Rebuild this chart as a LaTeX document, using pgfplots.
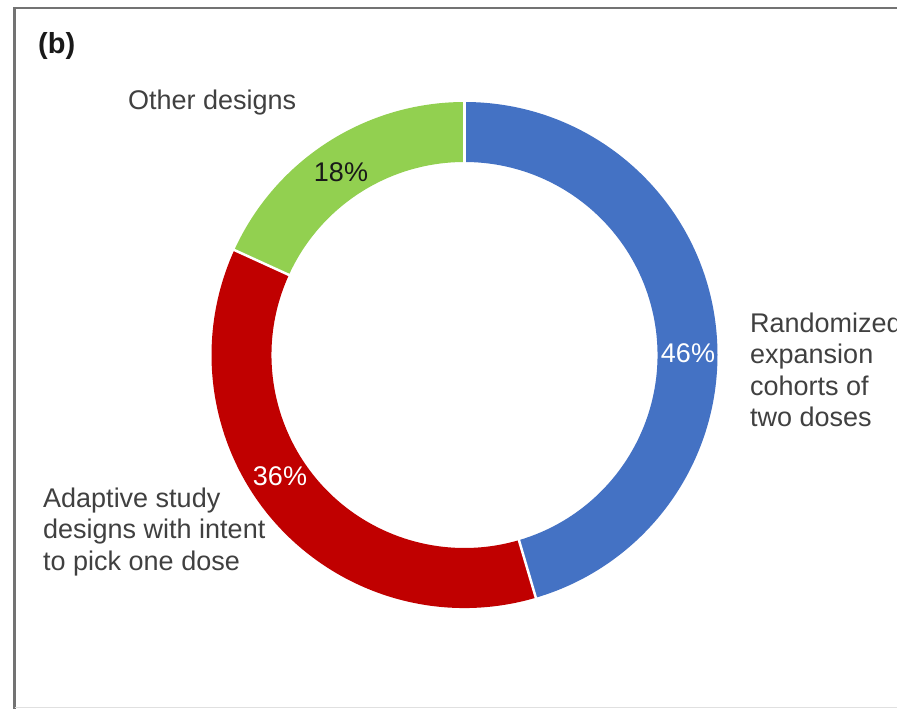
\documentclass[border=0pt]{standalone}
\usepackage{pgfplots}
\pgfplotsset{compat=1.18}
\usepackage{pgfplotstable}
\usepackage{fontspec}
\setmainfont{Liberation Sans}
\definecolor{cblue}{HTML}{4472C4}
\definecolor{cred}{HTML}{C00000}
\definecolor{cgreen}{HTML}{92D050}
\definecolor{ctext}{HTML}{404040}
\newcommand\fs{\fontsize{27bp}{32bp}\selectfont}

% shares read from the ring (labels show them rounded: 46%, 36%, 18%)
\pgfplotstableread{
share
45.45
36.36
18.18
}\shares

\begin{document}
\begin{tikzpicture}
\useasboundingbox (0,0) rectangle (897bp,709bp);
\pgfplotstablegetelem{0}{share}\of\shares \let\sA\pgfplotsretval
\pgfplotstablegetelem{1}{share}\of\shares \let\sB\pgfplotsretval
\pgfplotstablegetelem{2}{share}\of\shares \let\sC\pgfplotsretval
\pgfmathsetmacro\aA{90}
\pgfmathsetmacro\aB{\aA-3.6*\sA}
\pgfmathsetmacro\aC{\aB-3.6*\sB}
\pgfmathsetmacro\aD{\aC-3.6*\sC}
\def\ro{253}\def\ri{193}
\newcommand\sector[3]{%
  \fill[#1] (axis cs:464.5,354) ++(#2:\ro bp) arc[start angle=#2, end angle=#3, radius=\ro bp]
    -- ++(#3:-60bp) arc[start angle=#3, end angle=#2, radius=\ri bp] -- cycle;}
\newcommand\sep[1]{%
  \draw[white, line width=2.5bp] (axis cs:464.5,354) ++(#1:185bp) -- ++(#1:75bp);}
\begin{axis}[at={(0,0)}, anchor=origin, x=1bp, y=1bp, xmin=0, xmax=897, ymin=0, ymax=709,
  hide axis, clip=false, scale only axis]
  % frame
  \draw[black!55, line width=2.5bp] (axis cs:14.5,0) -- (axis cs:14.5,701) -- (axis cs:905,701);
  \draw[black!12, line width=1.5bp] (axis cs:14.5,1.5) -- (axis cs:905,1.5);
  % donut
  \sector{cblue}{\aA}{\aB}
  \sector{cred}{\aB}{\aC}
  \sector{cgreen}{\aC}{\aD}
  \sep{\aA}\sep{\aB}\sep{\aC}
  % percentages
  \node[anchor=base, font=\fs, text=white, inner sep=0] at (axis cs:688,{709-362}) {46\%};
  \node[anchor=base, font=\fs, text=white, inner sep=0] at (axis cs:280,{709-485}) {36\%};
  \node[anchor=base, font=\fs, text=black!90, inner sep=0] at (axis cs:341,{709-182}) {18\%};
  % labels
  \node[anchor=base west, font=\fontsize{29bp}{34bp}\selectfont\bfseries, text=black!90, inner sep=0] at (axis cs:38,{709-54}) {(b)};
  \node[anchor=base west, font=\fs, text=ctext, inner sep=0] at (axis cs:128,{709-110}) {Other designs};
  \node[anchor=base west, font=\fs, text=ctext, inner sep=0] at (axis cs:750,{709-332}) {Randomized};
  \node[anchor=base west, font=\fs, text=ctext, inner sep=0] at (axis cs:750,{709-363.5}) {expansion};
  \node[anchor=base west, font=\fs, text=ctext, inner sep=0] at (axis cs:750,{709-395}) {cohorts of};
  \node[anchor=base west, font=\fs, text=ctext, inner sep=0] at (axis cs:750,{709-426.5}) {two doses};
  \node[anchor=base west, font=\fs, text=ctext, inner sep=0] at (axis cs:43,{709-507}) {Adaptive study};
  \node[anchor=base west, font=\fs, text=ctext, inner sep=0] at (axis cs:43,{709-538}) {designs with intent};
  \node[anchor=base west, font=\fs, text=ctext, inner sep=0] at (axis cs:43,{709-570}) {to pick one dose};
\end{axis}
\end{tikzpicture}
\end{document}
